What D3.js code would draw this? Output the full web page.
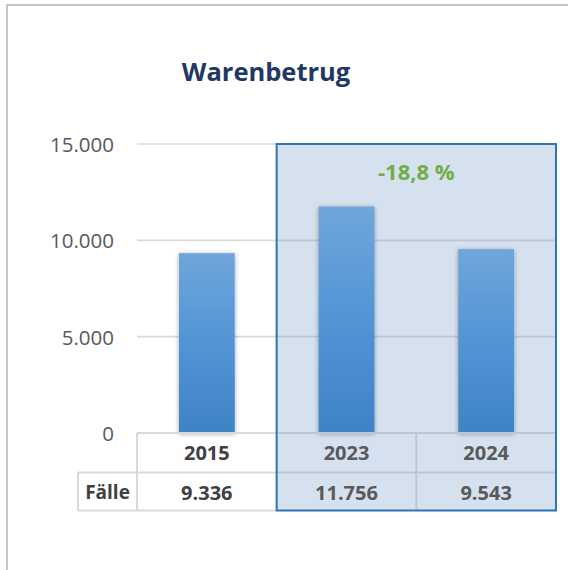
<!DOCTYPE html>
<html><head><meta charset="utf-8">
<script src="https://cdn.jsdelivr.net/npm/d3@7"></script>
<style>html,body{margin:0;padding:0;background:#fff;}svg{display:block;}</style>
</head><body>
<svg id="c" width="569" height="570"></svg>
<script>
const title = "Warenbetrug";
const categories = ["2015", "2023", "2024"];
const values = [9336, 11756, 9543];
const tickValues = [0, 5000, 10000, 15000];
const rowLabel = "Fälle";
const changeLabel = "-18,8 %";
const highlighted = ["2023", "2024"];

const fmt = v => d3.format(",")(v).replace(/,/g, ".");
const svg = d3.select("#c");
const FONT = "'Open Sans', sans-serif";

const y = d3.scaleLinear().domain([0, 15000]).range([433, 144]);
const x = d3.scaleBand().domain(categories).range([137, 556]).paddingInner(0.6).paddingOuter(0.3);
const col = d3.scaleBand().domain(categories).range([137, 556]);

const defs = svg.append("defs");
const grad = defs.append("linearGradient").attr("id", "bg").attr("x1", 0).attr("y1", 0).attr("x2", 0).attr("y2", 1);
grad.append("stop").attr("offset", "0%").attr("stop-color", "#6fa6db");
grad.append("stop").attr("offset", "45%").attr("stop-color", "#5596d6");
grad.append("stop").attr("offset", "100%").attr("stop-color", "#3e83c5");
const sh = defs.append("filter").attr("id", "sh").attr("x", "-30%").attr("y", "-10%").attr("width", "160%").attr("height", "120%");
sh.append("feGaussianBlur").attr("in", "SourceAlpha").attr("stdDeviation", 2.5).attr("result", "b");
sh.append("feOffset").attr("in", "b").attr("dx", 0).attr("dy", 1).attr("result", "o");
sh.append("feComponentTransfer").attr("in", "o").attr("result", "o2").append("feFuncA").attr("type", "linear").attr("slope", 0.35);
const m = sh.append("feMerge"); m.append("feMergeNode").attr("in", "o2"); m.append("feMergeNode").attr("in", "SourceGraphic");

// outer frame
svg.append("path").attr("d", "M7,570 V5 H568").attr("fill", "none").attr("stroke", "#c6c6c6").attr("stroke-width", 2);

// title
svg.append("text").attr("x", 266).attr("y", 81).attr("text-anchor", "middle")
  .attr("font-family", FONT).attr("font-weight", 700).attr("font-size", 25.5).attr("fill", "#1f3864").text(title);

// highlight box fill
const hx0 = col(highlighted[0]), hx1 = col(highlighted[highlighted.length-1]) + col.bandwidth();
const r0 = 433, r1 = 472.5, r2 = 510.5;
svg.append("rect").attr("x", hx0).attr("y", y(15000)).attr("width", hx1 - hx0).attr("height", r2 - y(15000))
  .attr("fill", "#d5e1ee");

// gridlines
const grid = svg.append("g");
tickValues.filter(t => t > 0).forEach(t => {
  grid.append("line").attr("x1", 137).attr("x2", hx0).attr("y1", y(t)).attr("y2", y(t)).attr("stroke", "#d9d9d9").attr("stroke-width", 1.6);
  grid.append("line").attr("x1", hx0).attr("x2", hx1).attr("y1", y(t)).attr("y2", y(t)).attr("stroke", "#bcc7d3").attr("stroke-width", 1.6);
});

// axis labels
const yAxis = d3.axisLeft(y).tickValues(tickValues).tickSize(0).tickPadding(0).tickFormat(fmt);
const ag = svg.append("g").attr("transform", "translate(114,0)").call(yAxis);
ag.select(".domain").remove();
ag.selectAll("text").attr("font-family", FONT).attr("font-size", 20.5).attr("fill", "#595959").attr("dy", "0.36em");

// bars
svg.append("g").selectAll("rect").data(values).join("rect")
  .attr("x", (d, i) => x(categories[i]))
  .attr("y", d => y(d)).attr("width", x.bandwidth()).attr("height", d => y(0) - y(d))
  .attr("fill", "url(#bg)").attr("filter", "url(#sh)");

// table
const tb = svg.append("g");
const lineCol = (x1, y1, x2, y2, c) => tb.append("line").attr("x1", x1).attr("y1", y1).attr("x2", x2).attr("y2", y2).attr("stroke", c).attr("stroke-width", 2);
lineCol(137, r0, hx0, r0, "#d9d9d9");
lineCol(78, r1, hx0, r1, "#d9d9d9");
lineCol(78, r2, hx0, r2, "#d9d9d9");
lineCol(137, r0, 137, r2, "#d9d9d9");
lineCol(78, r1, 78, r2, "#d9d9d9");
lineCol(hx0, r0, hx1, r0, "#bcc7d3");
lineCol(hx0, r1, hx1, r1, "#bcc7d3");
categories.forEach(c => { if (col(c) > hx0) lineCol(col(c), r0, col(c), r2, "#bcc7d3"); });

categories.forEach((c, i) => {
  const cx = col(c) + col.bandwidth()/2;
  const hl = highlighted.includes(c);
  tb.append("text").attr("x", cx).attr("y", 460).attr("text-anchor", "middle").attr("font-family", FONT)
    .attr("font-weight", 700).attr("font-size", 20).attr("fill", hl ? "#595959" : "#404040").text(c);
  tb.append("text").attr("x", cx).attr("y", 499.5).attr("text-anchor", "middle").attr("font-family", FONT)
    .attr("font-weight", 700).attr("font-size", 20).attr("fill", hl ? "#595959" : "#404040").text(fmt(values[i]));
});
tb.append("text").attr("x", 107.5).attr("y", 499).attr("text-anchor", "middle").attr("font-family", FONT)
  .attr("font-weight", 700).attr("font-size", 19).attr("fill", "#404040").text(rowLabel);

// highlight box outline
svg.append("rect").attr("x", hx0).attr("y", y(15000)).attr("width", hx1 - hx0).attr("height", r2 - y(15000))
  .attr("fill", "none").attr("stroke", "#2e75b6").attr("stroke-width", 2);

// change label
svg.append("text").attr("x", (hx0 + hx1)/2).attr("y", 179.5).attr("text-anchor", "middle").attr("font-family", FONT)
  .attr("font-weight", 700).attr("font-size", 22).attr("fill", "#70ad47").text(changeLabel);
</script>
</body></html>
